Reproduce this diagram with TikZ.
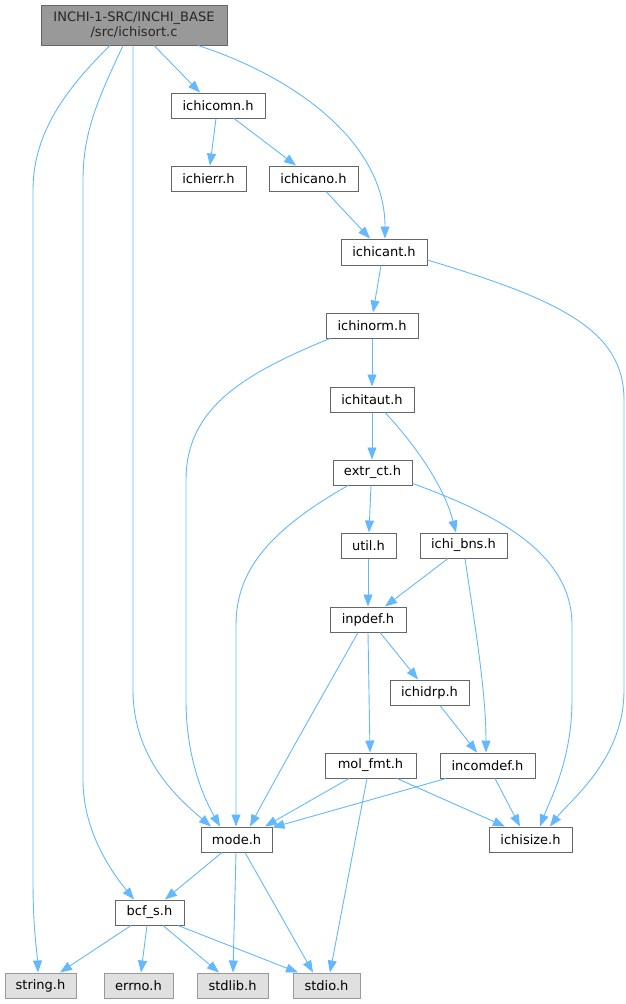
\documentclass[tikz,border=0pt]{standalone}
\usepackage{fontspec}
\setmainfont{DejaVu Sans}
\usetikzlibrary{arrows.meta}
\definecolor{edgec}{HTML}{63B8FF}
\definecolor{bord}{HTML}{666666}
\definecolor{rootfill}{HTML}{999999}
\definecolor{sysfill}{HTML}{E0E0E0}
\definecolor{sysbord}{HTML}{999999}
\tikzset{
  box/.style={draw=bord, fill=white, line width=1pt, minimum height=25pt, inner sep=0pt, font=\fontsize{13}{15}\selectfont},
  rootbox/.style={box, fill=rootfill, minimum height=40pt, align=center, text=black!85},
  sysbox/.style={box, draw=sysbord, fill=sysfill},
  edge/.style={draw=edgec, line width=0.9pt, -{Triangle[length=12pt,width=9pt]}},
}
\begin{document}
\begin{tikzpicture}[x=1pt,y=-1pt]
\useasboundingbox (0,0) rectangle (626,1004);
% nodes
\node[rootbox, minimum width=186pt] (root) at (134,25) {INCHI-1-SRC/INCHI\_BASE\\/src/ichisort.c};
\node[box, minimum width=94pt] (ichicomn) at (218,105.5) {ichicomn.h};
\node[box, minimum width=75pt] (ichierr) at (208.5,178.5) {ichierr.h};
\node[box, minimum width=89pt] (ichicano) at (313.5,178.5) {ichicano.h};
\node[box, minimum width=86pt, minimum height=26pt] (ichicant) at (384,252) {ichicant.h};
\node[box, minimum width=92pt] (ichinorm) at (372,325.5) {ichinorm.h};
\node[box, minimum width=84pt] (ichitaut) at (372,399.5) {ichitaut.h};
\node[box, minimum width=79pt] (extrct) at (372.5,472.5) {extr\_ct.h};
\node[box, minimum width=55pt] (util) at (368.5,545.5) {util.h};
\node[box, minimum width=87pt] (ichibns) at (463.5,545.5) {ichi\_bns.h};
\node[box, minimum width=76pt] (inpdef) at (368,619.5) {inpdef.h};
\node[box, minimum width=79pt] (ichidrp) at (429.5,692.5) {ichidrp.h};
\node[box, minimum width=91pt] (molfmt) at (370.5,765.5) {mol\_fmt.h};
\node[box, minimum width=95pt] (incomdef) at (487.5,765.5) {incomdef.h};
\node[box, minimum width=71pt] (mode) at (236.5,839.5) {mode.h};
\node[box, minimum width=83pt] (ichisize) at (530.5,839.5) {ichisize.h};
\node[box, minimum width=69pt] (bcfs) at (149.5,912.5) {bcf\_s.h};
\node[sysbox, minimum width=71pt] (string) at (40.5,985.5) {string.h};
\node[sysbox, minimum width=69pt] (errno) at (138.5,985.5) {errno.h};
\node[sysbox, minimum width=71pt] (stdlib) at (232.5,985.5) {stdlib.h};
\node[sysbox, minimum width=67pt] (stdio) at (326.5,985.5) {stdio.h};
% edges
\path[edge] ([xshift=-24pt]root.south) .. controls (70,85) and (33,130) .. (33,190) -- (33,880) .. controls (33,930) and (37,950) .. ([xshift=-2.5pt]string.north);
\path[edge] ([xshift=-11pt]root.south) .. controls (100,95) and (83,130) .. (83,180) -- (83,780) .. controls (83,830) and (110,870) .. ([xshift=-15.5pt]bcfs.north);
\path[edge] ([xshift=-1pt]root.south) -- (133,690) .. controls (133,760) and (180,800) .. ([xshift=-25.5pt]mode.north);
\path[edge] ([xshift=20pt]root.south) -- ([xshift=-18pt]ichicomn.north);
\path[edge] ([xshift=64pt]root.south) .. controls (290,75) and (385,140) .. ([xshift=1pt]ichicant.north);
\path[edge] ([xshift=-2pt]ichicomn.south) -- ([xshift=1.5pt]ichierr.north);
\path[edge] ([xshift=16pt]ichicomn.south) -- ([xshift=-17.5pt]ichicano.north);
\path[edge] ([xshift=12.5pt]ichicano.south) -- ([xshift=-14pt]ichicant.north);
\path[edge] ([xshift=-3pt]ichicant.south) -- ([xshift=1pt]ichinorm.north);
\path[edge] ([yshift=-8pt]ichicant.east) .. controls (560,300) and (624,330) .. (624,400) -- (624,690) .. controls (624,760) and (570,800) .. ([xshift=19.5pt]ichisize.north);
\path[edge] ([xshift=-42pt]ichinorm.south) .. controls (240,375) and (186,410) .. (186,480) -- (186,700) .. controls (186,760) and (205,800) .. ([xshift=-16.5pt]mode.north);
\path[edge] (ichinorm.south) -- (ichitaut.north);
\path[edge] (ichitaut.south) -- ([xshift=-0.5pt]extrct.north);
\path[edge] ([xshift=13pt]ichitaut.south) .. controls (420,450) and (445,490) .. ([xshift=-7.5pt]ichibns.north);
\path[edge] ([xshift=-24.5pt]extrct.south) .. controls (270,530) and (236,570) .. (236,625) -- ([xshift=-0.5pt]mode.north);
\path[edge] ([xshift=-1.5pt]extrct.south) -- ([xshift=0.5pt]util.north);
\path[edge] ([yshift=2pt]extrct.south east) .. controls (500,515) and (572,555) .. (572,625) -- (572,700) .. controls (572,760) and (550,800) .. ([xshift=9.5pt]ichisize.north);
\path[edge] ([xshift=-0.5pt]util.south) -- (inpdef.north);
\path[edge] ([xshift=-15.5pt]ichibns.south) -- ([xshift=17pt]inpdef.north);
\path[edge] ([xshift=1.5pt]ichibns.south) .. controls (474,620) and (486,690) .. ([xshift=-1.5pt]incomdef.north);
\path[edge] ([xshift=-10pt]inpdef.south) .. controls (320,700) and (280,770) .. ([xshift=13.5pt]mode.north);
\path[edge] (inpdef.south) -- ([xshift=-0.5pt]molfmt.north);
\path[edge] ([xshift=12pt]inpdef.south) -- ([xshift=-11.5pt]ichidrp.north);
\path[edge] ([xshift=10.5pt]ichidrp.south) -- ([xshift=-10.5pt]incomdef.north);
\path[edge] ([xshift=-21.5pt]molfmt.south) -- ([xshift=28.5pt]mode.north);
\path[edge] ([xshift=26.5pt]molfmt.south) -- ([xshift=-25.5pt]ichisize.north);
\path[edge] ([xshift=-3.5pt]molfmt.south) -- ([xshift=3.5pt]stdio.north);
\path[edge] ([xshift=-41.5pt]incomdef.south) -- ([yshift=-1pt]mode.north east);
\path[edge] ([xshift=7.5pt]incomdef.south) -- ([xshift=-10.5pt]ichisize.north);
\path[edge] ([xshift=-14.5pt]mode.south) -- ([xshift=15.5pt]bcfs.north);
\path[edge] ([xshift=-0.5pt]mode.south) -- ([xshift=0.5pt]stdlib.north);
\path[edge] ([xshift=8.5pt]mode.south) -- ([xshift=-13.5pt]stdio.north);
\path[edge] ([xshift=-18.5pt]bcfs.south) -- ([xshift=19.5pt]string.north);
\path[edge] ([xshift=-2.5pt]bcfs.south) -- ([xshift=2.5pt]errno.north);
\path[edge] ([xshift=13.5pt]bcfs.south) -- ([xshift=-13.5pt]stdlib.north);
\path[edge] ([xshift=28.5pt]bcfs.south) -- ([xshift=-28.5pt]stdio.north);
\end{tikzpicture}
\end{document}
